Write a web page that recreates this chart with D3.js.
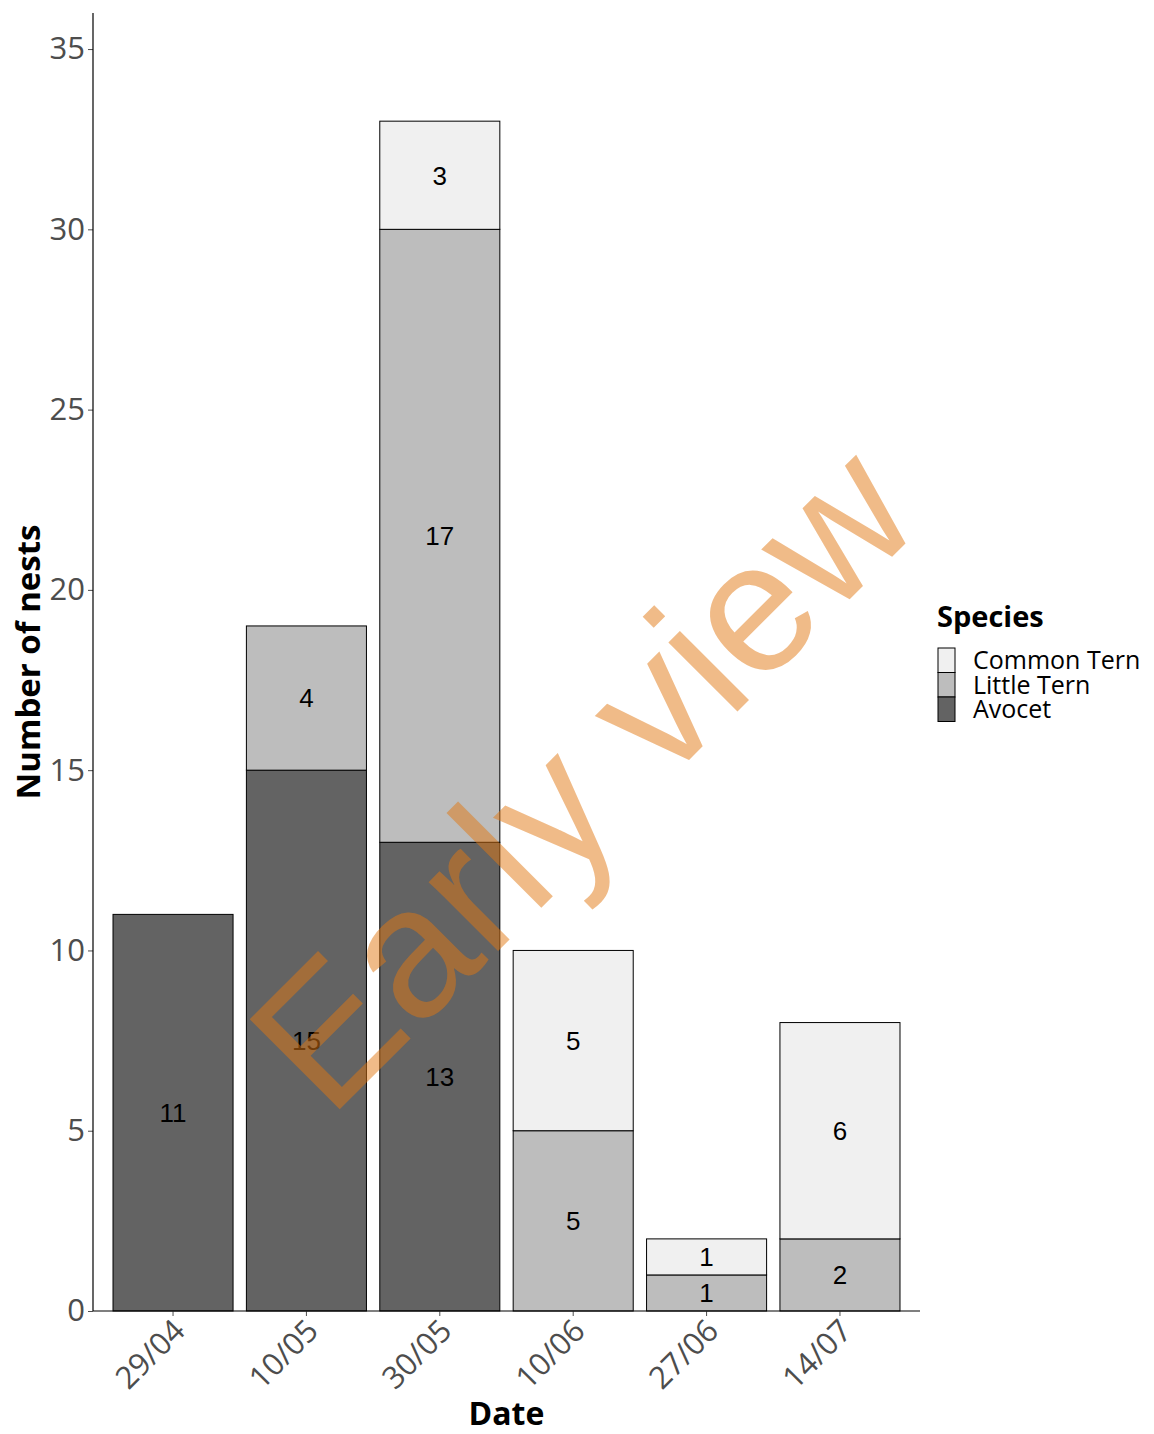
<!DOCTYPE html>
<html>
<head>
<meta charset="utf-8">
<script src="https://cdn.jsdelivr.net/npm/d3@7"></script>
<style>
  html, body { margin: 0; padding: 0; background: #ffffff; }
  svg { display: block; }
</style>
</head>
<body>
<svg id="chart" width="1154" height="1434"></svg>
<script>
// Nest counts per survey date, stacked by species
const dates = ["29/04", "10/05", "30/05", "10/06", "27/06", "14/07"];
const species = ["Avocet", "Little Tern", "Common Tern"];
const avocet = [11, 15, 13, 0, 0, 0];
const littleTern = [0, 4, 17, 5, 1, 2];
const commonTern = [0, 0, 3, 5, 1, 6];
const yTicks = [0, 5, 10, 15, 20, 25, 30, 35];
const speciesColors = ["#636363", "#bdbdbd", "#f0f0f0"];
const legendOrder = ["Common Tern", "Little Tern", "Avocet"];

const rows = dates.map((d, i) => ({
  date: d,
  "Avocet": avocet[i],
  "Little Tern": littleTern[i],
  "Common Tern": commonTern[i]
}));

const svg = d3.select("#chart");
const plot = { left: 93, right: 920, top: 13, bottom: 1311 };

const x = d3.scaleBand()
  .domain(dates)
  .range([plot.left, plot.right])
  .paddingInner(0.1)
  .paddingOuter(0.15);

const y = d3.scaleLinear()
  .domain([0, 36])
  .range([plot.bottom, plot.top]);

const color = d3.scaleOrdinal().domain(species).range(speciesColors);

const stacked = d3.stack().keys(species)(rows);

// Stacked bars
const layers = svg.append("g").selectAll("g")
  .data(stacked)
  .join("g")
  .attr("fill", d => color(d.key));

layers.selectAll("rect")
  .data(d => d.filter(s => s[1] - s[0] > 0))
  .join("rect")
  .attr("x", s => x(s.data.date))
  .attr("width", x.bandwidth())
  .attr("y", s => y(s[1]))
  .attr("height", s => y(s[0]) - y(s[1]))
  .attr("stroke", "#000")
  .attr("stroke-width", 1);

// Count labels in the middle of each segment
const labels = svg.append("g");
stacked.forEach(layer => {
  layer.filter(s => s[1] - s[0] > 0).forEach(s => {
    labels.append("text")
      .attr("x", x(s.data.date) + x.bandwidth() / 2)
      .attr("y", y((s[0] + s[1]) / 2))
      .attr("dy", "0.36em")
      .attr("text-anchor", "middle")
      .attr("font-family", "'Liberation Sans', Arial, sans-serif")
      .attr("font-size", 26)
      .attr("fill", "#000")
      .text(s[1] - s[0]);
  });
});

// Y axis
const yAxis = svg.append("g")
  .attr("transform", `translate(${plot.left},0)`)
  .call(d3.axisLeft(y).tickValues(yTicks).tickSize(5).tickPadding(3));
yAxis.select(".domain").remove();
yAxis.selectAll(".tick line").attr("stroke", "#4d4d4d");
yAxis.selectAll(".tick text")
  .attr("font-family", "'Open Sans', sans-serif")
  .attr("font-size", 31)
  .attr("fill", "#4d4d4d");
svg.append("line")
  .attr("x1", plot.left).attr("x2", plot.left)
  .attr("y1", plot.top).attr("y2", plot.bottom)
  .attr("stroke", "#000").attr("stroke-width", 1.2);

// X axis
const xAxis = svg.append("g")
  .attr("transform", `translate(0,${plot.bottom})`)
  .call(d3.axisBottom(x).tickSize(5).tickPadding(2));
xAxis.select(".domain").remove();
xAxis.selectAll(".tick line").attr("stroke", "#4d4d4d");
xAxis.selectAll(".tick text")
  .attr("font-family", "'Open Sans', sans-serif")
  .attr("font-size", 31)
  .attr("fill", "#4d4d4d")
  .attr("text-anchor", "end")
  .attr("dy", "0.9em")
  .attr("transform", "translate(-11,-3) rotate(-45)");
svg.append("line")
  .attr("x1", plot.left).attr("x2", plot.right)
  .attr("y1", plot.bottom).attr("y2", plot.bottom)
  .attr("stroke", "#000").attr("stroke-width", 1.2);

// Axis titles
svg.append("text")
  .attr("x", (plot.left + plot.right) / 2)
  .attr("y", 1425)
  .attr("text-anchor", "middle")
  .attr("font-family", "'Open Sans', sans-serif")
  .attr("font-weight", "bold")
  .attr("font-size", 32)
  .attr("fill", "#000")
  .text("Date");

svg.append("text")
  .attr("transform", `translate(40,${(plot.top + plot.bottom) / 2}) rotate(-90)`)
  .attr("text-anchor", "middle")
  .attr("font-family", "'Open Sans', sans-serif")
  .attr("font-weight", "bold")
  .attr("font-size", 33)
  .attr("fill", "#000")
  .text("Number of nests");

// Legend
const legend = svg.append("g").attr("transform", "translate(937,0)");
legend.append("text")
  .attr("x", 0).attr("y", 627)
  .attr("font-family", "'Open Sans', sans-serif")
  .attr("font-weight", "bold")
  .attr("font-size", 29)
  .attr("fill", "#000")
  .text("Species");
const keyH = 24.5, keyW = 17, keyTop = 648;
legendOrder.forEach((name, i) => {
  legend.append("rect")
    .attr("x", 1).attr("y", keyTop + i * keyH)
    .attr("width", keyW).attr("height", keyH)
    .attr("fill", color(name))
    .attr("stroke", "#000").attr("stroke-width", 1);
  legend.append("text")
    .attr("x", 36).attr("y", keyTop + i * keyH + keyH / 2)
    .attr("dy", "0.36em")
    .attr("font-family", "'Open Sans', sans-serif")
    .attr("font-size", 25)
    .attr("fill", "#000")
    .text(name);
});

// Diagonal "Early view" stamp across the plot
svg.append("text")
  .attr("transform", "translate(329,1120) rotate(-45)")
  .attr("font-family", "'Liberation Sans', Arial, sans-serif")
  .attr("font-size", 185)
  .attr("fill", "rgb(225,119,17)")
  .attr("fill-opacity", 0.5)
  .text("Early view");
</script>
</body>
</html>
